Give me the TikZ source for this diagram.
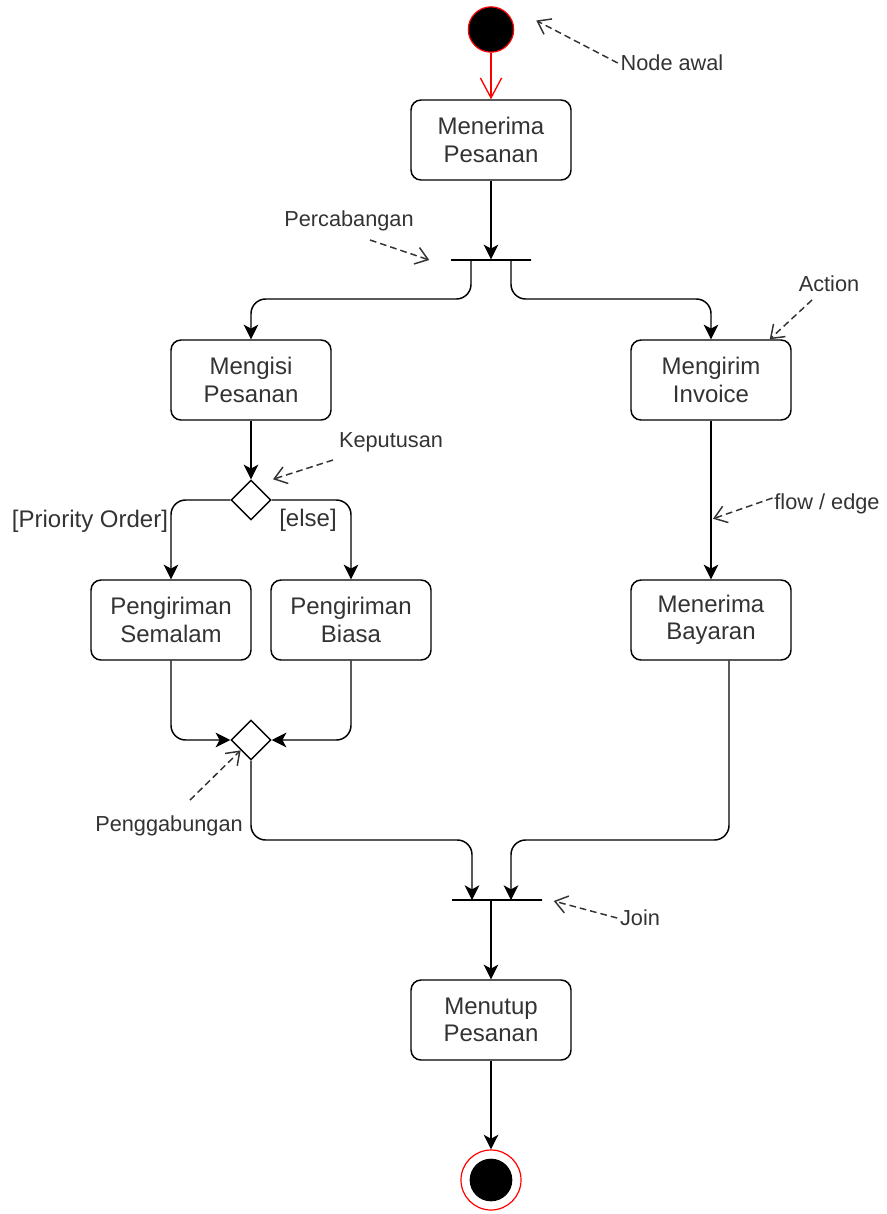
\documentclass[tikz,border=0pt]{standalone}
\usepackage{fontspec}
\setmainfont{Liberation Sans}
\usetikzlibrary{arrows.meta, calc, shapes.geometric}
\definecolor{inkgray}{HTML}{333333}
\definecolor{startred}{HTML}{FF0000}

\tikzset{
  action/.style={draw, rounded corners=7.5pt, line width=1.1pt, minimum width=120pt,
    minimum height=60pt, align=center, text=inkgray, font=\fontsize{18}{20.5}\selectfont},
  choice/.style={diamond, draw, line width=1.1pt, minimum size=30pt, inner sep=0pt, aspect=1},
  bar/.style={draw, line width=1.1pt, minimum height=0pt, inner sep=0pt},
  flow/.style={-{Stealth[length=11pt,width=11pt,inset=3pt]}, line width=1.1pt, rounded corners=11pt},
  note/.style={dash pattern=on 5pt off 3pt, -{Straight Barb[length=9pt,width=13pt]}, line width=1.1pt, inkgray},
  notetext/.style={text=inkgray, font=\fontsize{16.3}{19}\selectfont, inner sep=2pt},
  guard/.style={text=inkgray, font=\fontsize{18}{20.5}\selectfont, inner sep=2pt}
}

\begin{document}
\begin{tikzpicture}[x=0.75pt, y=-0.75pt]
  \useasboundingbox (0,0) rectangle (886,1214);

  % start and end
  \node[circle, draw=startred, fill=black, minimum size=34pt, inner sep=0pt, line width=0.9pt] (start) at (491,29.5) {};
  \node[circle, draw=startred, fill=white, minimum size=45pt, inner sep=0pt, line width=0.9pt] (stop) at (491,1180) {};
  \node[circle, fill=black, minimum size=32pt, inner sep=0pt] (stopdot) at (stop) {};

  % actions
  \node[action] (menerima) at (491,140) {Menerima\\Pesanan};
  \node[action] (mengisi) at (251,380) {Mengisi\\Pesanan};
  \node[action] (mengirim) at (711,380) {Mengirim\\Invoice};
  \node[action] (semalam) at (171,620) {Pengiriman\\Semalam};
  \node[action] (biasa) at (351,620) {Pengiriman\\Biasa};
  \node[action] (bayaran) at (711,620) {Menerima\\Bayaran};
  \node[action] (menutup) at (491,1020) {Menutup\\Pesanan};

  % bars and diamonds
  \node[bar, minimum width=60pt] (fork) at (491,260) {};
  \node[bar, minimum width=67.5pt] (join) at (497,900) {};
  \node[choice] (dec) at (251,500) {};
  \node[choice] (merge) at (251,740) {};

  % flows
  \draw[red, line width=1pt, -{Straight Barb[length=15pt,width=16pt]}] (start) -- (menerima);
  \draw[flow] (menerima) -- (fork);
  \draw[flow] ($(fork.center)+(-20,0)$) -- ++(0,39) -| (mengisi.north);
  \draw[flow] ($(fork.center)+(20,0)$) -- ++(0,39) -| (mengirim.north);
  \draw[flow] (mengisi) -- (dec);
  \draw[flow] (dec.west) -| (semalam.north);
  \draw[flow] (dec.east) -| (biasa.north);
  \draw[flow] (semalam.south) |- (merge.west);
  \draw[flow] (biasa.south) |- (merge.east);
  \draw[flow] (mengirim) -- (bayaran);
  \draw[flow] (merge.south) |- ($(join.center)+(-25,-60)$) -- ($(join.center)+(-25,0)$);
  \draw[flow] ($(bayaran.south)+(18,0)$) |- ($(join.center)+(14,-60)$) -- ($(join.center)+(14,0)$);
  \draw[flow] ($(join.center)+(-6,0)$) -- (menutup.north);
  \draw[flow] (menutup) -- (stop);

  % guards
  \node[guard] (gprio) at (90,521) {[Priority Order]};
  \node[guard] (gelse) at (308,520) {[else]};

  % notes
  \node[notetext] (lblawal) at (672,63) {Node awal};
  \node[notetext] (lblcab) at (349,221) {Percabangan};
  \node[notetext] (lblaction) at (829,284) {Action};
  \node[notetext] (lblkep) at (391,442) {Keputusan};
  \node[notetext] (lblflow) at (827,504) {flow / edge};
  \node[notetext] (lblmerge) at (169,826) {Penggabungan};
  \node[notetext] (lbljoin) at (640,918) {Join};

  \coordinate (tipflow) at ($(mengirim.south)+(2,98)$);
  \draw[note] (lblawal.west) -- ($(start.east)+(22,-9)$);
  \draw[note] ($(lblcab.center)+(21,19)$) -- ($(fork.west)+(-21,0)$);
  \draw[note] ($(lblaction.center)+(-17,16)$) -- ($(mengirim.north east)+(-22,0)$);
  \draw[note] ($(lblkep.center)+(-58,18)$) -- ($(dec.north)+(22,0)$);
  \draw[note] ($(lblflow.west)+(1,-6)$) -- (tipflow);
  \draw[note] ($(lblmerge.center)+(21,-26)$) -- (merge.south west);
  \draw[note] (lbljoin.west) -- ($(join.east)+(11,1)$);
\end{tikzpicture}
\end{document}
